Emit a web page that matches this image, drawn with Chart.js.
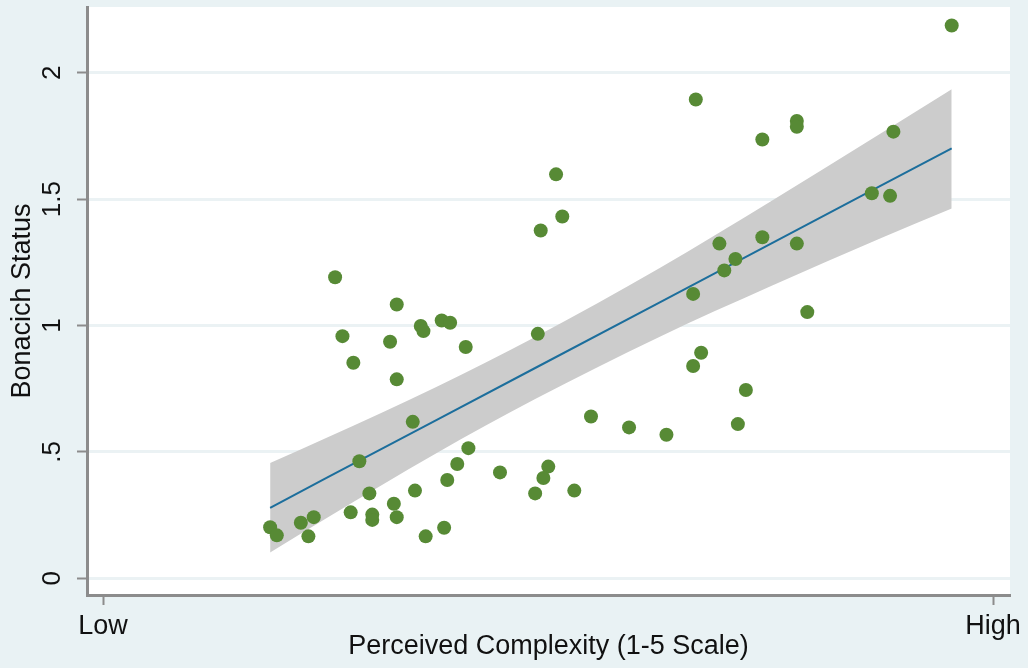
<!DOCTYPE html>
<html>
<head>
<meta charset="utf-8">
<script src="https://cdn.jsdelivr.net/npm/chart.js@4.4.1/dist/chart.umd.min.js"></script>
<style>
  html, body { margin: 0; padding: 0; background: #e9f2f4; }
  #wrap { width: 1028px; height: 668px; position: relative; }
  canvas { display: block; }
</style>
</head>
<body>
<div id="wrap"><canvas id="c" width="1028" height="668"></canvas></div>
<script>
// Observations: perceived complexity (1 = Low ... 5 = High) and Bonacich status
const complexity = [
  2.043, 2.320, 2.076, 2.290, 2.428, 2.440, 2.522, 2.560, 2.630, 2.125,
  2.320, 2.392, 2.152, 2.642, 2.592, 2.547, 2.402, 2.197, 2.307, 2.113,
  2.210, 2.210, 2.320, 1.947, 1.889, 1.751, 1.781, 1.923, 2.533, 2.450,
  3.036, 3.064, 2.967, 2.954, 3.193, 2.784, 3.001, 2.979, 2.942, 3.118,
  3.664, 4.118, 4.118, 3.963, 3.770, 3.963, 4.118, 3.842, 3.792, 3.652,
  4.165, 3.688, 3.652, 3.889, 3.853, 3.364, 3.532, 4.814, 4.552, 4.455,
  4.537
];
const status = [
  1.191, 1.083, 0.958, 0.936, 0.998, 0.978, 1.020, 1.011, 0.915, 0.853,
  0.787, 0.619, 0.463, 0.515, 0.452, 0.389, 0.347, 0.336, 0.295, 0.261,
  0.252, 0.231, 0.242, 0.242, 0.220, 0.202, 0.170, 0.166, 0.200, 0.166,
  1.598, 1.431, 1.376, 0.967, 0.640, 0.419, 0.442, 0.397, 0.336, 0.347,
  1.894, 1.809, 1.786, 1.736, 1.324, 1.349, 1.324, 1.263, 1.218, 1.125,
  1.053, 0.892, 0.840, 0.745, 0.610, 0.597, 0.568, 2.187, 1.767, 1.523,
  1.513
];

// Linear fit and its confidence band
const fitX      = [1.751, 2.0,   2.5,   2.94,  3.5,   4.0,   4.5,   4.814];
const fitY      = [0.279, 0.395, 0.627, 0.831, 1.091, 1.323, 1.555, 1.701];
const bandUpper = [0.456, 0.554, 0.758, 0.954, 1.227, 1.491, 1.763, 1.935];
const bandLower = [0.102, 0.236, 0.496, 0.708, 0.955, 1.155, 1.347, 1.463];

// Axis ticks
const yTickValues = [0, 0.5, 1, 1.5, 2];
const yTickLabels = ['0', '.5', '1', '1.5', '2'];
const xTickValues = [1, 5];
const xTickLabels = ['Low', 'High'];

const AXIS_GRAY = '#8c8c8c';
const FONT = "'Liberation Sans', Arial, Helvetica, sans-serif";

const toPoints = (xs, ys) => xs.map((x, i) => ({ x: x, y: ys[i] }));

// White plotting region on the tinted page
const plotBackground = {
  id: 'plotBackground',
  beforeDraw(chart) {
    const { ctx, chartArea: a } = chart;
    ctx.save();
    ctx.fillStyle = '#ffffff';
    ctx.fillRect(a.left, a.top, a.right - a.left, a.bottom - a.top);
    ctx.restore();
  }
};

new Chart(document.getElementById('c'), {
  type: 'line',
  data: {
    datasets: [
      {
        label: 'Bonacich Status',
        data: toPoints(complexity, status),
        showLine: false,
        pointRadius: 7,
        pointHoverRadius: 7,
        pointBackgroundColor: '#578a35',
        pointBorderWidth: 0
      },
      {
        label: 'Fitted values',
        data: toPoints(fitX, fitY),
        borderColor: '#1c6e9c',
        borderWidth: 2,
        pointRadius: 0,
        tension: 0,
        fill: false
      },
      {
        label: '95% CI',
        data: toPoints(fitX, bandUpper),
        borderWidth: 0,
        borderColor: 'rgba(0,0,0,0)',
        backgroundColor: '#cccccc',
        pointRadius: 0,
        cubicInterpolationMode: 'monotone',
        fill: '+1'
      },
      {
        label: 'lower',
        data: toPoints(fitX, bandLower),
        borderWidth: 0,
        borderColor: 'rgba(0,0,0,0)',
        pointRadius: 0,
        cubicInterpolationMode: 'monotone',
        fill: false
      }
    ]
  },
  options: {
    responsive: false,
    animation: false,
    devicePixelRatio: 1,
    layout: { padding: { left: 0, top: 5, right: 18, bottom: 0 } },
    plugins: {
      legend: { display: false },
      tooltip: { enabled: false }
    },
    scales: {
      x: {
        type: 'linear',
        min: 0.928,
        max: 5.076,
        afterBuildTicks(scale) {
          scale.ticks = xTickValues.map(v => ({ value: v }));
        },
        afterFit(scale) {
          scale.height = 73;
          scale.paddingLeft = 0;
          scale.paddingRight = 0;
        },
        ticks: {
          autoSkip: false,
          maxRotation: 0,
          minRotation: 0,
          padding: 5,
          color: '#111',
          font: { family: FONT, size: 27 },
          callback(value) {
            const i = xTickValues.indexOf(value);
            return i >= 0 ? xTickLabels[i] : '';
          }
        },
        grid: {
          display: true,
          drawOnChartArea: false,
          drawTicks: true,
          tickLength: 10,
          tickColor: AXIS_GRAY,
          tickWidth: 2
        },
        border: { display: true, color: AXIS_GRAY, width: 3 },
        title: {
          display: true,
          text: 'Perceived Complexity (1-5 Scale)',
          color: '#111',
          font: { family: FONT, size: 27, lineHeight: 1 },
          padding: { top: 0, bottom: 8 }
        }
      },
      y: {
        type: 'linear',
        min: -0.066,
        max: 2.26,
        afterBuildTicks(scale) {
          scale.ticks = yTickValues.map(v => ({ value: v }));
        },
        afterFit(scale) {
          scale.width = 87;
          scale.paddingTop = 0;
          scale.paddingBottom = 0;
        },
        ticks: {
          autoSkip: false,
          minRotation: 90,
          maxRotation: 90,
          crossAlign: 'center',
          padding: 6,
          color: '#111',
          font: { family: FONT, size: 26 },
          callback(value) {
            const i = yTickValues.indexOf(value);
            return i >= 0 ? yTickLabels[i] : '';
          }
        },
        grid: {
          display: true,
          drawOnChartArea: true,
          color: '#ebf2f4',
          lineWidth: 3,
          drawTicks: true,
          tickLength: 10,
          tickColor: AXIS_GRAY,
          tickWidth: 2
        },
        border: { display: true, color: AXIS_GRAY, width: 3 },
        title: {
          display: true,
          text: 'Bonacich Status',
          color: '#111',
          font: { family: FONT, size: 27, lineHeight: 1 },
          padding: { top: 9, bottom: 0 }
        }
      }
    }
  },
  plugins: [plotBackground]
});
</script>
</body>
</html>
